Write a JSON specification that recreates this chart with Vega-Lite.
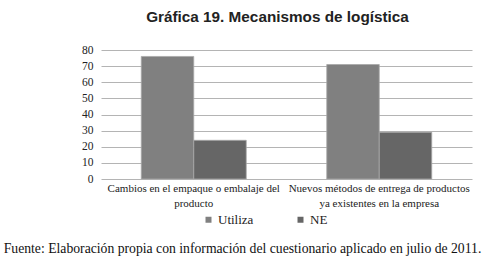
{
  "$schema": "https://vega.github.io/schema/vega-lite/v6.json",
  "width": 371,
  "height": 129,
  "autosize": "none",
  "padding": {"left": 101, "top": 50, "right": 11, "bottom": 83},
  "background": "white",
  "title": {
    "text": "Gráfica 19. Mecanismos de logística",
    "font": "Liberation Sans",
    "fontSize": 15.3,
    "fontWeight": "bold",
    "color": "#222222",
    "anchor": "middle",
    "dx": -9,
    "offset": 19
  },
  "data": {
    "values": [
      {"mecanismo": "Cambios en el empaque o embalaje del|producto", "serie": "Utiliza", "valor": 76},
      {"mecanismo": "Cambios en el empaque o embalaje del|producto", "serie": "NE", "valor": 24},
      {"mecanismo": "Nuevos métodos de entrega de productos|ya existentes en la empresa", "serie": "Utiliza", "valor": 71},
      {"mecanismo": "Nuevos métodos de entrega de productos|ya existentes en la empresa", "serie": "NE", "valor": 29}
    ]
  },
  "mark": {"type": "bar", "stroke": "#a8a8a8", "strokeWidth": 0.8},
  "encoding": {
    "x": {
      "field": "mecanismo",
      "type": "nominal",
      "sort": null,
      "scale": {"paddingInner": 0.434, "paddingOuter": 0.217},
      "axis": {
        "title": "Fuente: Elaboración propia con información del cuestionario aplicado en julio de 2011.",
        "titleFont": "Liberation Serif",
        "titleFontSize": 13.7,
        "titleFontWeight": "normal",
        "titleColor": "#111111",
        "titleX": 141,
        "titleY": 73,
        "titleBaseline": "alphabetic",
        "titleAnchor": "middle",
        "titleAlign": "center",
        "labelAngle": 0,
        "labelExpr": "split(datum.label, '|')",
        "labelFont": "Liberation Serif",
        "labelFontSize": 11,
        "labelColor": "#222222",
        "labelLineHeight": 15,
        "labelLimit": 300,
        "labelPadding": 3,
        "domain": false,
        "ticks": false
      }
    },
    "xOffset": {"field": "serie", "type": "nominal", "sort": ["Utiliza", "NE"]},
    "y": {
      "field": "valor",
      "type": "quantitative",
      "scale": {"domain": [0, 80]},
      "axis": {
        "title": null,
        "values": [0, 10, 20, 30, 40, 50, 60, 70, 80],
        "labelFont": "Liberation Serif",
        "labelFontSize": 11.5,
        "labelColor": "#222222",
        "labelPadding": 8,
        "domain": false,
        "ticks": false,
        "grid": true,
        "gridColor": "#b4b4b4",
        "gridWidth": 1
      }
    },
    "color": {
      "field": "serie",
      "type": "nominal",
      "sort": ["Utiliza", "NE"],
      "scale": {"domain": ["Utiliza", "NE"], "range": ["#808080", "#666666"]},
      "legend": {
        "title": null,
        "orient": "none",
        "legendX": 101,
        "legendY": 163,
        "direction": "horizontal",
        "symbolType": "square",
        "symbolSize": 36,
        "symbolStrokeWidth": 0,
        "labelFont": "Liberation Serif",
        "labelFontSize": 13,
        "labelColor": "#222222",
        "labelOffset": 3,
        "columnPadding": 40
      }
    }
  },
  "config": {"view": {"stroke": null}, "legend": {"labelFont": "Liberation Serif"}}
}
